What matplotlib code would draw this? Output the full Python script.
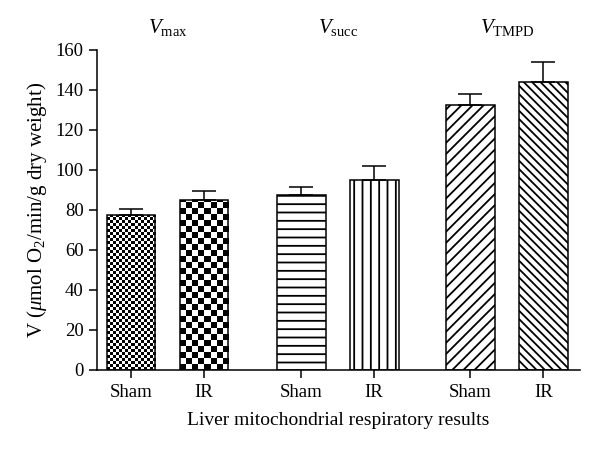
import numpy as np
import matplotlib
matplotlib.use("Agg")
import matplotlib.pyplot as plt

plt.rcParams['font.family'] = ['Liberation Serif', 'DejaVu Serif']
plt.rcParams['mathtext.fontset'] = 'custom'
plt.rcParams['mathtext.rm'] = 'Liberation Serif'
plt.rcParams['mathtext.it'] = 'Liberation Serif:italic'
plt.rcParams['hatch.linewidth'] = 1.3

## data
groups = [r'$V_{\mathrm{max}}$', r'$V_{\mathrm{succ}}$', r'$V_{\mathrm{TMPD}}$']
labels = ['Sham', 'IR', 'Sham', 'IR', 'Sham', 'IR']
means = [77.5, 85.0, 87.5, 95.0, 132.5, 144.0]
errs = [3.0, 4.5, 4.0, 7.0, 5.5, 10.0]

pos = [0, 1, 2.33, 3.33, 4.65, 5.65]
hatches = [None, None, '--', '||', '///', '\\\\\\\\']
checker_px = [3, 6, None, None, None, None]
w = 0.67

fig = plt.figure(figsize=(6, 4.55), dpi=100)
ax = fig.add_axes([97/600, 85/455, (580-97)/600, (370-50)/455])
ax.set_xlim(-0.466, 6.15)
ax.set_ylim(0, 160)

# px per data unit
p0 = ax.transData.transform((0, 0))
p1 = ax.transData.transform((1, 1))
pxx, pxy = p1 - p0

for i in range(len(means)):
    bars = ax.bar(pos[i], means[i], width=w, facecolor='white' if checker_px[i] is None else 'none',
                  edgecolor='black', linewidth=1.1, hatch=hatches[i], zorder=2)
    b = bars[0]
    if checker_px[i] is not None:
        c = checker_px[i]
        nc = int(round(w * pxx / c))
        nr = int(np.ceil(means[i] * pxy / c))
        rr, cc = np.indices((nr, nc))
        img = ((rr + cc) % 2).astype(float)
        x0 = pos[i] - w / 2
        im = ax.imshow(img, cmap='gray', extent=(x0, x0 + w, 0, nr * c / pxy),
                       origin='lower', interpolation='nearest', aspect='auto', zorder=1)
        im.set_clip_path(b)
    ax.errorbar(pos[i], means[i], yerr=[[0], [errs[i]]], fmt='none', ecolor='black',
                elinewidth=1.1, capsize=8.5, capthick=1.1, zorder=3)

ax.set_xlim(-0.466, 6.15)
ax.set_ylim(0, 160)

for g in range(3):
    xc = (pos[2*g] + pos[2*g+1]) / 2
    ax.text(xc, 1.07, groups[g], transform=ax.get_xaxis_transform(), ha='center',
            va='center', fontsize=15)

ax.spines['top'].set_visible(False)
ax.spines['right'].set_visible(False)
for s in ['left', 'bottom']:
    ax.spines[s].set_linewidth(1.1)
ax.set_xticks(pos)
ax.set_xticklabels(labels)
ax.set_yticks(np.arange(0, 161, 20))
ax.tick_params(axis='both', direction='out', length=6, width=1.1, labelsize=13.5)
ax.tick_params(axis='x', pad=4)
ax.set_xlabel('Liver mitochondrial respiratory results', fontsize=14, labelpad=8)
ax.set_ylabel(r'V ($\mu$mol O$_2$/min/g dry weight)', fontsize=15, labelpad=5)

fig.savefig('out.png', dpi=100)
